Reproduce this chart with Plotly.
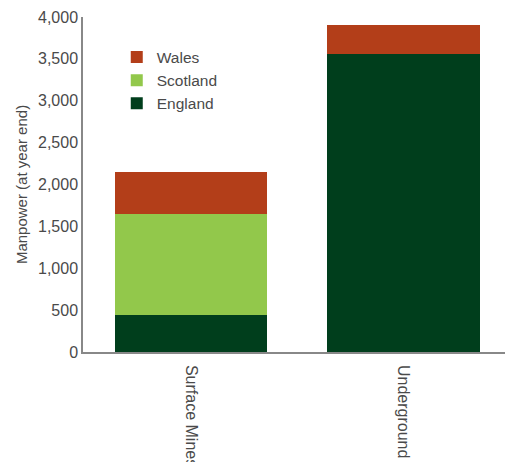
import plotly.graph_objects as go

categories = ["Surface Mines", "Underground"]
england = [440, 3560]
scotland = [1210, 0]
wales = [500, 345]
y_ticks = [0, 500, 1000, 1500, 2000, 2500, 3000, 3500, 4000]
y_tick_labels = ["0", "500", "1,000", "1,500", "2,000", "2,500", "3,000", "3,500", "4,000"]

fig = go.Figure()
fig.add_trace(go.Bar(x=categories, y=england, name="England", marker=dict(color="#003e1c", line=dict(width=0))))
fig.add_trace(go.Bar(x=categories, y=scotland, name="Scotland", marker=dict(color="#92c84b", line=dict(width=0))))
fig.add_trace(go.Bar(x=categories, y=wales, name="Wales", marker=dict(color="#b33e19", line=dict(width=0))))

fam = "Liberation Sans, Arial, sans-serif"
col = "#4a4a4a"
tickfont = dict(family=fam, size=16, color=col)
legfont = dict(family=fam, size=15.5, color=col)
titlefont = dict(family=fam, size=15, color=col)
fig.update_layout(
    barmode="stack",
    bargap=0.28,
    width=505, height=462,
    margin=dict(l=83, r=0, t=17, b=110, autoexpand=False),
    paper_bgcolor="white", plot_bgcolor="white",
    font=tickfont,
    showlegend=True,
    legend=dict(x=0.08, y=0.93, xanchor="left", yanchor="top", traceorder="reversed",
                bgcolor="rgba(0,0,0,0)", font=legfont, itemsizing="constant", tracegroupgap=0),
    xaxis=dict(showline=True, linecolor="#888", linewidth=1.5, ticks="outside", ticklen=8,
               tickcolor="rgba(0,0,0,0)", tickangle=90,
               showgrid=False, range=[-0.51, 1.48], tickfont=tickfont, automargin=False),
    yaxis=dict(showline=True, linecolor="#888", linewidth=1.5, ticks="", range=[0, 4000],
               tickvals=y_ticks, ticktext=y_tick_labels, showgrid=False, zeroline=False,
               automargin=False,
               title=dict(text="Manpower (at year end)", font=titlefont, standoff=7), tickfont=tickfont),
)
fig.write_html("out.html", post_script="document.body.style.margin='0';",
               config={"displayModeBar": False})
